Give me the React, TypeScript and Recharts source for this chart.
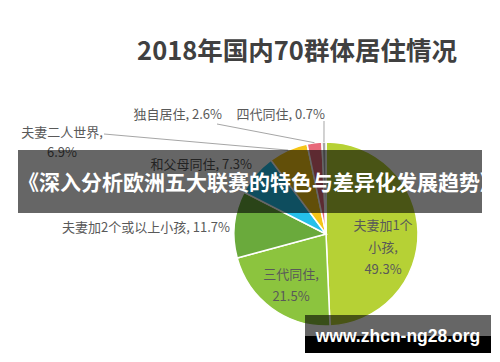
import { Pie, PieChart, Cell } from "recharts";

const categories = [
  "夫妻加1个小孩",
  "三代同住",
  "夫妻加2个或以上小孩",
  "和父母同住",
  "夫妻二人世界",
  "独自居住",
  "四代同住",
];
const shares = [49.3, 21.5, 11.7, 7.3, 6.9, 2.6, 0.7];
const palette = ["#b6d135", "#8cc43e", "#6aaa3c", "#25c0ea", "#f5c518", "#e8697a", "#a6a6a6"];

const data = categories.map((name, i) => ({ name, value: shares[i] }));

const CX = 326;
const CY = 234;
const R = 92;
const RADIAN = Math.PI / 180;
const FONT = '"Noto Sans CJK SC", "Noto Sans", sans-serif';

// label placement relative to pie centre (Excel-style manual layout)
const labelLayout = [
  { wrap: 3, x: 57, y: -10, anchor: "middle", gap: 22 },
  { wrap: 2, x: -35, y: 39, anchor: "middle", gap: 22 },
  { wrap: 1, x: -96, y: -8, anchor: "end", gap: 0 },
  { wrap: 1, x: -74, y: -71, anchor: "end", gap: 0 },
  { wrap: 2, x: -264, y: -103, anchor: "middle", gap: 20, leader: [-222, -100] },
  { wrap: 1, x: -104, y: -121, anchor: "end", gap: 0, leader: [-109, -110] },
  { wrap: 1, x: -1, y: -121, anchor: "end", gap: 0, leader: [-2, -113] },
];

function labelLines(name: string, value: number, wrap: number) {
  const pct = `${value.toFixed(1)}%`;
  if (wrap === 3) return [name.slice(0, 5), `${name.slice(5)},`, pct];
  if (wrap === 2) return [`${name},`, pct];
  return [`${name}, ${pct}`];
}

function renderLabel(props: any) {
  const { index, midAngle, outerRadius, name, value } = props;
  const cx = Number(props.cx ?? CX);
  const cy = Number(props.cy ?? CY);
  const cfg = labelLayout[index];
  if (!cfg) return null;
  const lines = labelLines(name, Number(value), cfg.wrap);
  const ex = cx + outerRadius * Math.cos(-midAngle * RADIAN);
  const ey = cy + outerRadius * Math.sin(-midAngle * RADIAN);

  return (
    <g key={`lbl-${index}`}>
      {cfg.leader && (
        <line
          x1={cx + cfg.leader[0]}
          y1={cy + cfg.leader[1]}
          x2={ex}
          y2={ey}
          stroke="#a6a6a6"
          strokeWidth={1}
        />
      )}
      {lines.map((t, i) => (
        <text
          key={i}
          x={cx + cfg.x}
          y={cy + cfg.y + i * cfg.gap}
          textAnchor={cfg.anchor as any}
          dominantBaseline="central"
          fill="#595959"
          fontSize={13}
          fontFamily={FONT}
        >
          {t}
        </text>
      ))}
    </g>
  );
}

export default function App() {
  return (
    <div
      style={{
        position: "absolute",
        left: 0,
        top: 0,
        width: 500,
        height: 362,
        background: "#fff",
        overflow: "hidden",
      }}
    >
      <PieChart width={500} height={362} margin={{ top: 0, right: 0, left: 0, bottom: 0 }}>
        <text
          x={297}
          y={48}
          textAnchor="middle"
          dominantBaseline="central"
          fill="#404040"
          fontSize={25.5}
          fontWeight={700}
          fontFamily={FONT}
        >
          2018年国内70群体居住情况
        </text>
        <Pie
          data={data}
          dataKey="value"
          nameKey="name"
          cx={CX}
          cy={CY}
          outerRadius={R}
          startAngle={90}
          endAngle={-270}
          stroke="#fff"
          strokeWidth={1.5}
          labelLine={false}
          label={renderLabel}
          isAnimationActive={false}
        >
          {data.map((d, i) => (
            <Cell key={d.name} fill={palette[i]} />
          ))}
        </Pie>
      </PieChart>

      <div
        style={{
          position: "absolute",
          left: 18,
          top: 150,
          width: 464,
          height: 63,
          background: "rgba(0,0,0,0.6)",
          overflow: "hidden",
          whiteSpace: "nowrap",
        }}
      >
        <div
          style={{
            position: "absolute",
            left: 0,
            top: 0,
            height: 63,
            lineHeight: "63px",
            color: "#fff",
            fontSize: 21,
            fontWeight: 700,
            fontFamily: FONT,
          }}
        >
          《深入分析欧洲五大联赛的特色与差异化发展趋势》
        </div>
      </div>

      <div
        style={{
          position: "absolute",
          left: 305,
          top: 315,
          width: 186,
          height: 38,
          background: "rgba(0,0,0,0.6)",
        }}
      >
        <div
          style={{
            position: "absolute",
            left: 0,
            top: 21,
            width: 186,
            height: 17,
            background: "#000",
          }}
        />
        <div
          style={{
            position: "absolute",
            left: 0,
            top: 10,
            width: 186,
            textAlign: "center",
            lineHeight: "22px",
            color: "#fff",
            fontSize: 17.5,
            fontWeight: 700,
            fontFamily: '"Liberation Sans", Arial, sans-serif',
          }}
        >
          www.zhcn-ng28.org
        </div>
      </div>
    </div>
  );
}
